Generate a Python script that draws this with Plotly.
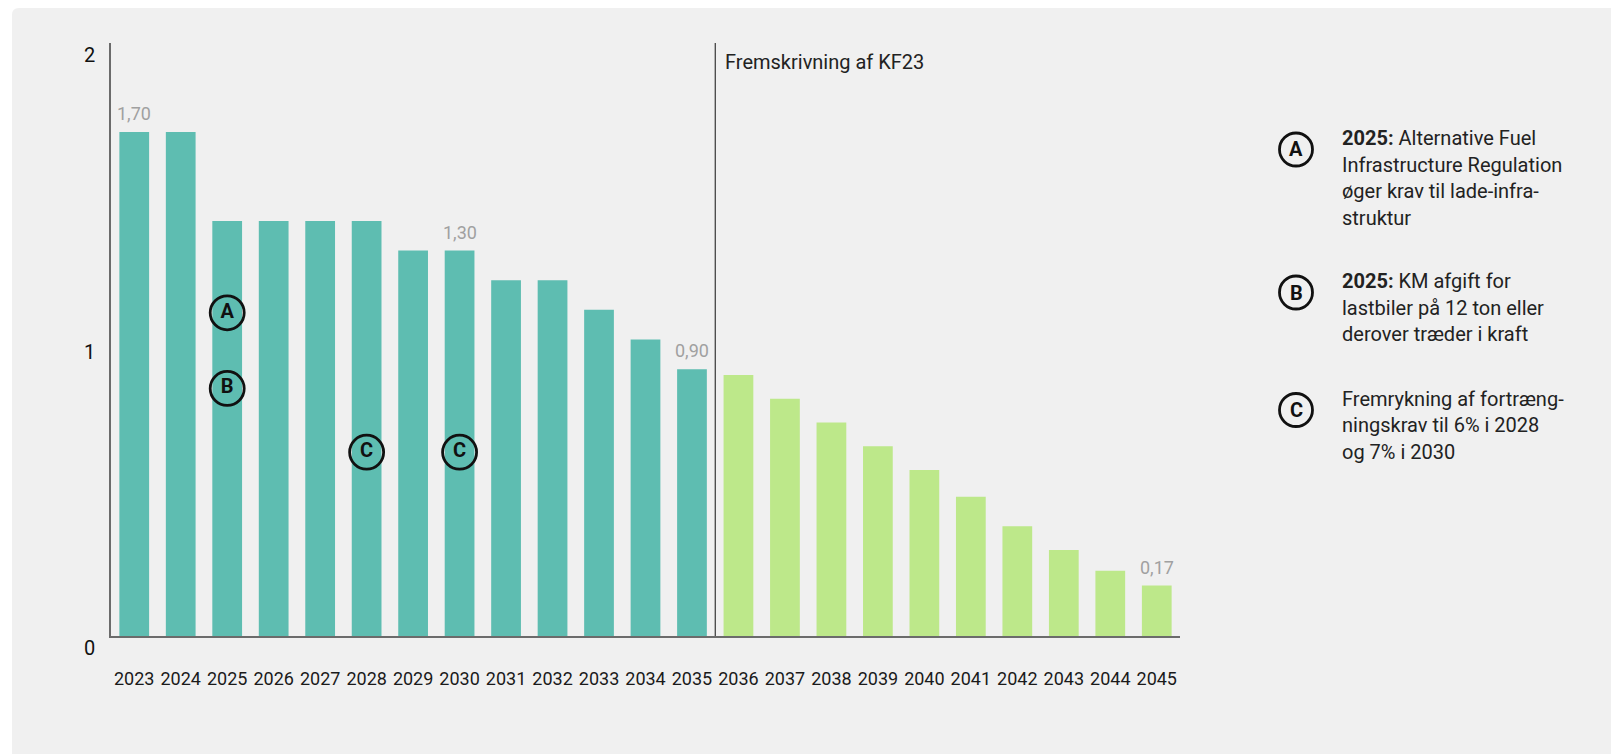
import plotly.graph_objects as go

# Données
annees = [str(a) for a in range(2023, 2046)]
valeurs = [1.70, 1.70, 1.40, 1.40, 1.40, 1.40, 1.30, 1.30, 1.20, 1.20, 1.10, 1.00, 0.90,
           0.88, 0.80, 0.72, 0.64, 0.56, 0.47, 0.37, 0.29, 0.22, 0.17]
nb_historique = 13  # 2023-2035, le reste est la fremskrivning
etiquettes = {"2023": "1,70", "2030": "1,30", "2035": "0,90", "2045": "0,17"}

repere_x = ["2025", "2025", "2028", "2030"]
repere_y = [1.09, 0.835, 0.62, 0.62]
repere_lettre = ["A", "B", "C", "C"]

legende_lettres = ["A", "B", "C"]
legende_lignes = [
    ["<b>2025:</b> Alternative Fuel", "Infrastructure Regulation", "øger krav til lade-infra-", "struktur"],
    ["<b>2025:</b> KM afgift for", "lastbiler på 12 ton eller", "derover træder i kraft"],
    ["Fremrykning af fortræng-", "ningskrav til 6% i 2028", "og 7% i 2030"],
]
titre_projection = "Fremskrivning af KF23"

teal = "#5ebdb1"
vert = "#bde88a"
police = "Roboto"

# zone du graphique en pixels (la page ajoute une marge de 8 px)
W, H = 1611, 746
L, R, T, B = 103, 439, 35, 118
pw, ph = W - L - R, H - T - B


def px(x):
    return (x - L) / pw


def py(y):
    return (H - B - y) / ph


fig = go.Figure()
fig.add_trace(go.Bar(x=annees[:nb_historique], y=valeurs[:nb_historique],
                     marker=dict(color=teal, line=dict(width=0)), hoverinfo="x+y"))
fig.add_trace(go.Bar(x=annees[nb_historique:], y=valeurs[nb_historique:],
                     marker=dict(color=vert, line=dict(width=0)), hoverinfo="x+y"))

fig.add_trace(go.Scatter(x=repere_x, y=repere_y, mode="markers+text", text=repere_lettre,
                         textposition="middle center",
                         textfont=dict(family=police, size=20, color="#111", weight="bold"),
                         marker=dict(symbol="circle-open", size=34, color="#111",
                                     line=dict(width=2.8, color="#111")),
                         hoverinfo="skip"))

annotations = []
for annee, txt in etiquettes.items():
    i = annees.index(annee)  # axe catégoriel : position = rang de la catégorie
    annotations.append(dict(x=i, y=valeurs[i], xref="x", yref="y", text=txt,
                            showarrow=False, yanchor="bottom", yshift=6,
                            font=dict(family=police, size=18, color="#a0a0a0")))

annotations.append(dict(x=nb_historique - 0.5, y=2, xref="x", yref="y", text=titre_projection,
                        showarrow=False, xanchor="left", yanchor="middle", xshift=8, yshift=-19,
                        font=dict(family=police, size=20, color="#222")))

shapes = []
# fond gris arrondi
r = 7
x0, y0 = px(4), py(0)
x1, y1 = px(W + 5), py(H + 5)
shapes.append(dict(type="path", xref="paper", yref="paper", layer="below",
                   path=f"M {x0},{py(r)} Q {x0},{y0} {px(4 + r)},{y0} L {x1},{y0} L {x1},{y1} L {x0},{y1} Z",
                   fillcolor="#f0f0f0", line=dict(width=0)))
# séparation historique / fremskrivning
shapes.append(dict(type="line", xref="x", yref="y", x0=nb_historique - 0.5, x1=nb_historique - 0.5,
                   y0=0, y1=2, line=dict(color="#111", width=1)))

# légende à droite
debut_bloc = [130, 273, 390.5]
interligne = 26.7
for i, lettre in enumerate(legende_lettres):
    cy = debut_bloc[i] + 11.5
    shapes.append(dict(type="circle", xref="paper", yref="paper", xsizemode="pixel",
                       ysizemode="pixel", xanchor=px(1288), yanchor=py(cy),
                       x0=-16.5, x1=16.5, y0=-16.5, y1=16.5,
                       line=dict(color="#111", width=2.8)))
    annotations.append(dict(x=px(1288), y=py(cy), xref="paper", yref="paper", text=f"<b>{lettre}</b>",
                            showarrow=False, xanchor="center", yanchor="middle",
                            font=dict(family=police, size=20, color="#111")))
    for j, ligne in enumerate(legende_lignes[i]):
        annotations.append(dict(x=px(1332), y=py(debut_bloc[i] + j * interligne), xref="paper",
                                yref="paper", text=ligne, showarrow=False, xanchor="left",
                                yanchor="middle", font=dict(family=police, size=20, color="#222")))

fig.update_layout(
    width=W, height=H,
    margin=dict(l=L, r=R, t=T, b=B),
    paper_bgcolor="white",
    plot_bgcolor="rgba(0,0,0,0)",
    barmode="overlay",
    bargap=0.36,
    showlegend=False,
    font=dict(family=police, color="#222"),
    shapes=shapes,
    annotations=annotations,
)
fig.update_xaxes(type="category", categoryorder="array", categoryarray=annees,
                 range=[-0.5, len(annees) - 0.5], showline=True, linecolor="#6b6b6b", linewidth=1.5,
                 showgrid=False, ticks="", ticklabelstandoff=26,
                 tickfont=dict(family=police, size=18, color="#1a1a1a"))
fig.update_yaxes(range=[0, 2], tickvals=[0, 1, 2], ticktext=["0", "1", "2"], showline=True,
                 linecolor="#6b6b6b", linewidth=1.5, showgrid=False, zeroline=False, ticks="",
                 ticklabelshift=12, ticklabelstandoff=10,
                 tickfont=dict(family=police, size=20, color="#111"))

fig.write_html("out.html")
